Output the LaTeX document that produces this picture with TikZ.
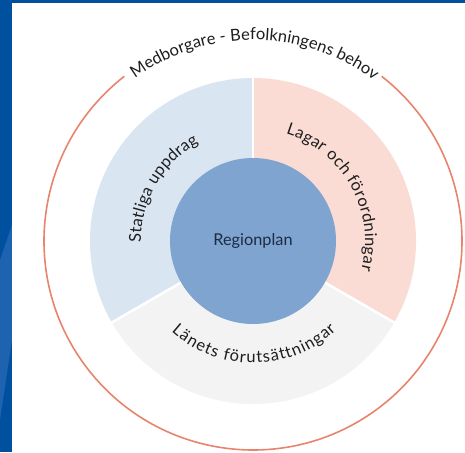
\documentclass[tikz,border=0pt]{standalone}
\usepackage{fontspec}
\setmainfont{Lato}
\usetikzlibrary{decorations.text}
\definecolor{bgblue}{HTML}{0050A0}
\definecolor{bglight}{HTML}{1D63AF}
\definecolor{secblue}{HTML}{DAE5F2}
\definecolor{secpink}{HTML}{FADCD5}
\definecolor{secgray}{HTML}{F3F3F3}
\definecolor{coreblue}{HTML}{7EA4CF}
\definecolor{ringline}{HTML}{E8846D}
\definecolor{txt}{HTML}{1E1E1E}
\definecolor{coretxt}{HTML}{1C2B45}
\tikzset{
  sectorgap/.style={draw=white, line width=2.5pt},
  ringlabel/.style={decorate, decoration={text along path, text align=fit to path, text color=txt}},
}
\begin{document}
\begin{tikzpicture}[x=1pt,y=1pt]
\useasboundingbox (0,0) rectangle (465,452);
% background
\fill[bgblue] (0,0) rectangle (465,452);
\fill[bglight] (0,192) -- (12,227) -- (12,112) -- (0,32) -- cycle;
\fill[white] (12,0) rectangle (465,449);
\coordinate (c) at (253,211);
% outer circle with gap
\draw[ringline, line width=1.6pt] (c) ++(128:209) arc[start angle=128, end angle=412, radius=209];
% sectors
\fill[secblue] (c) -- ++(90:163) arc[start angle=90, end angle=210, radius=163] -- cycle;
\fill[secpink] (c) -- ++(-30:163) arc[start angle=-30, end angle=90, radius=163] -- cycle;
\fill[secgray] (c) -- ++(210:163) arc[start angle=210, end angle=330, radius=163] -- cycle;
\draw[sectorgap] (c) -- ++(90:165);
\draw[sectorgap] (c) -- ++(210:165);
\draw[sectorgap] (c) -- ++(330:165);
% core
\node[circle, fill=coreblue, minimum size=166pt, inner sep=0pt, text=coretxt, font=\fontsize{16.3}{20}\selectfont] (rp) at (c) {Regionplan};
% ring labels
\path[ringlabel, decoration={text={|\fontsize{16.5}{20}\selectfont|Medborgare - Befolkningens behov}}] (c) ++(126:201) arc[start angle=126, end angle=54, radius=201];
\path[ringlabel, decoration={text={|\fontsize{16.5}{20}\selectfont|Statliga uppdrag}}] (c) ++(181:112) arc[start angle=181, end angle=119, radius=112];
\path[ringlabel, decoration={text={|\fontsize{16.5}{20}\selectfont|Lagar och förordningar}}] (c) ++(73:112) arc[start angle=73, end angle=-15, radius=112];
\path[ringlabel, decoration={text={|\fontsize{16.5}{20}\selectfont|Länets förutsättningar}}] (c) ++(228:122) arc[start angle=228, end angle=313, radius=122];
\end{tikzpicture}
\end{document}
